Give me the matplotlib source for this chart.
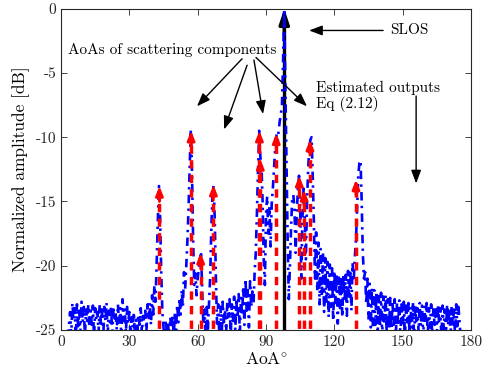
import numpy as np
import matplotlib
matplotlib.use("Agg")
import matplotlib.pyplot as plt

plt.rcParams['font.family'] = ['cmr10', 'DejaVu Serif']
plt.rcParams['mathtext.fontset'] = 'cm'
plt.rcParams['axes.unicode_minus'] = False

# ---- data ----
angle_start, angle_stop, angle_step = 3.0, 176.0, 0.5
spectrum_db = [
    -25.6, -24.6, -23.6, -25.4, -22.9, -24.2, -23.3, -25.8, -23.0, -24.7, -23.5, -25.3, -22.8, -24.4,
    -23.2, -25.6, -23.4, -24.3, -23.0, -25.1, -23.5, -24.6, -23.1, -25.7, -23.3, -24.2, -23.6, -25.2, -23.0, -24.5, -23.4, -25.9, -23.2, -24.3,
    -22.9, -25.3, -23.5, -24.4, -23.1, -25.6, -23.4, -24.1, -23.7, -25.0, -23.0, -24.6, -23.3, -25.8, -22.6, -24.3, -23.4, -25.2, -23.2, -24.5,
    -23.6, -25.4, -24.0, -24.8, -23.6, -25.7, -24.2, -25.0, -23.8, -24.6, -23.3, -25.3, -23.9, -24.4, -23.5, -25.1, -23.0, -24.2, -22.9, -24.6,
    -22.3, -23.8, -21.5, -22.8, -19.8, -16.5, -13.8, -16.2, -20.5, -23.6, -24.8, -25.8, -24.2, -25.3, -24.5, -25.9, -24.0, -25.2, -23.8, -25.6,
    -23.6, -25.0, -23.0, -24.4, -22.5, -23.8, -21.9, -23.2, -20.5, -21.8, -20.0, -18.0, -15.5, -12.2, -9.4, -12.6, -18.0, -21.5, -20.6, -22.3,
    -21.0, -20.2, -19.4, -19.1, -22.0, -24.6, -23.4, -25.6, -23.2, -24.9, -22.8, -20.8, -17.0, -14.5, -13.7, -16.4, -21.0, -24.5, -23.0, -25.5,
    -23.2, -25.7, -22.8, -24.4, -23.4, -25.2, -22.8, -24.0, -22.6, -25.5, -23.0, -24.3, -22.4, -25.0, -22.8, -24.1, -22.2, -25.4, -22.5, -23.9,
    -21.6, -24.6, -21.0, -23.5, -21.8, -24.8, -21.2, -23.2, -22.0, -23.0, -20.5, -19.0, -16.0, -12.5, -9.5, -11.5, -12.2, -15.0, -19.5, -21.5,
    -16.0, -14.6, -17.5, -15.4, -18.5, -15.2, -14.0, -12.5, -11.0, -9.7, -10.6, -9.6, -8.8, -8.2, -7.6, -4.0, 0.0, -6.0, -12.0, -18.0,
    -22.6, -20.0, -17.0, -14.8, -14.5, -15.6, -19.0, -16.0, -14.0, -13.0, -15.5, -21.0, -16.2, -14.0, -16.0, -19.5, -15.0, -12.5, -10.8, -10.2,
    -10.0, -13.0, -16.5, -21.0, -17.4, -22.0, -18.2, -23.0, -18.7, -22.4, -19.0, -23.6, -19.4, -22.8, -19.7, -24.0, -19.9, -23.2, -20.2, -24.3,
    -20.4, -23.0, -20.6, -24.5, -20.7, -23.3, -20.8, -24.0, -20.6, -22.8, -20.7, -23.9, -20.4, -22.6, -20.3, -23.5, -19.8, -21.2, -19.3, -18.0,
    -15.5, -13.0, -12.0, -11.8, -15.0, -19.0, -21.0, -20.5, -23.0, -21.0, -24.2, -21.4, -24.8, -21.7, -25.2, -21.9, -24.6, -22.0, -25.5, -22.2,
    -24.8, -22.1, -25.6, -22.4, -24.5, -22.3, -25.3, -22.6, -24.9, -22.5, -25.8, -22.7, -24.6, -22.6, -25.4, -22.9, -24.7, -22.7, -25.6, -23.0,
    -24.6, -22.8, -25.7, -23.1, -24.4, -22.9, -25.3, -23.2, -24.8, -22.8, -25.9, -23.0, -24.5, -23.3, -25.2, -22.9, -24.7, -23.1, -25.6, -23.2,
    -24.4, -22.9, -25.5, -23.3, -24.8, -23.0, -25.8, -23.2, -24.6, -23.4, -25.3, -23.0, -24.5, -23.3, -25.7, -23.1, -24.9, -23.4, -25.4, -23.0,
    -24.6, -23.3, -25.6, -23.1, -24.8, -23.4, -25.5, -23.0, -24.7, -23.2, -24.5, -25.6,
]
angles = np.arange(angle_start, angle_stop, angle_step)
assert len(angles) == len(spectrum_db)

est_aoa = [43.2, 57.1, 61.3, 66.9, 87.1, 87.5, 94.5, 104.6, 106.7, 109.3, 129.5]
est_amp = [-13.8, -9.5, -19.0, -13.7, -9.5, -11.7, -9.7, -13.0, -14.1, -10.2, -13.3]

slos_aoa = 98.0
slos_amp = 0.0

xticks = [0, 30, 60, 90, 120, 150, 180]
yticks = [0, -5, -10, -15, -20, -25]
ytick_labels = ['0', '-5', '-10', '-15', '-20', '-25']

# ---- figure ----
fig = plt.figure(figsize=(4.83, 3.74), dpi=100)
ax = fig.add_axes([0.1263, 0.1176, 0.8489, 0.8594])
ax.set_xlim(0, 180)
ax.set_ylim(-25, 0)

floor = -26.0

# SLOS black arrow
ax.plot([slos_aoa, slos_aoa], [floor, slos_amp - 1.5], color='black', lw=2.4, zorder=2,
        solid_capstyle='butt')
ax.annotate('', xy=(slos_aoa, slos_amp), xytext=(slos_aoa, slos_amp - 2.0),
            arrowprops=dict(arrowstyle='-|>,head_length=0.9,head_width=0.3',
                            color='black', lw=2.4, shrinkA=0, shrinkB=0),
            zorder=2, annotation_clip=False)

# Blue spectrum
ax.plot(angles, spectrum_db, color='blue', lw=1.9, ls=(0, (3.2, 2.0, 0.9, 2.0)), zorder=3)

# Red estimated arrows
for a, p in zip(est_aoa, est_amp):
    ax.plot([a, a], [floor, p - 0.8], color='red', lw=2.5, ls=(0, (2.4, 1.8)), zorder=4)
    ax.annotate('', xy=(a, p), xytext=(a, p - 1.2),
                arrowprops=dict(arrowstyle='-|>,head_length=0.55,head_width=0.22',
                                color='red', lw=2.0, shrinkA=0, shrinkB=0),
                zorder=5)

# Annotations
fs = 11
ax.text(3.1, -3.2, 'AoAs of scattering components', fontsize=fs, va='center', ha='left')
arrow_kw = dict(arrowstyle='-|>,head_length=0.8,head_width=0.3', color='black', lw=1.0,
                shrinkA=0, shrinkB=0)
for (x0, y0, x1, y1) in [(79.5, -3.9, 59.7, -7.6), (81.7, -4.4, 71.6, -9.4),
                         (84.7, -4.0, 88.7, -8.2), (85.6, -3.8, 108.0, -7.6)]:
    ax.annotate('', xy=(x1, y1), xytext=(x0, y0), arrowprops=arrow_kw)

ax.text(144.4, -1.7, 'SLOS', fontsize=fs, va='center', ha='left')
ax.annotate('', xy=(108.9, -1.7), xytext=(141.4, -1.7), arrowprops=arrow_kw)

ax.text(111.9, -6.2, 'Estimated outputs', fontsize=fs, va='center', ha='left')
ax.text(111.9, -7.4, 'Eq (2.12)', fontsize=fs, va='center', ha='left')
ax.annotate('', xy=(155.9, -13.6), xytext=(155.9, -6.8), arrowprops=arrow_kw)

# Axes styling
ax.set_xticks(xticks)
ax.set_xticklabels([str(t) for t in xticks])
ax.set_yticks(yticks)
ax.set_yticklabels(ytick_labels)
ax.tick_params(direction='in', top=True, right=True, length=4, width=0.6,
               labelsize=fs, colors='#262626')
for s in ax.spines.values():
    s.set_linewidth(0.8)
    s.set_color('#262626')
ax.set_xlabel(r'AoA$^{\circ}$', fontsize=12.5, labelpad=2)
ax.set_ylabel('Normalized amplitude [dB]', fontsize=12.5, labelpad=4)

fig.savefig('out.png', dpi=100)
